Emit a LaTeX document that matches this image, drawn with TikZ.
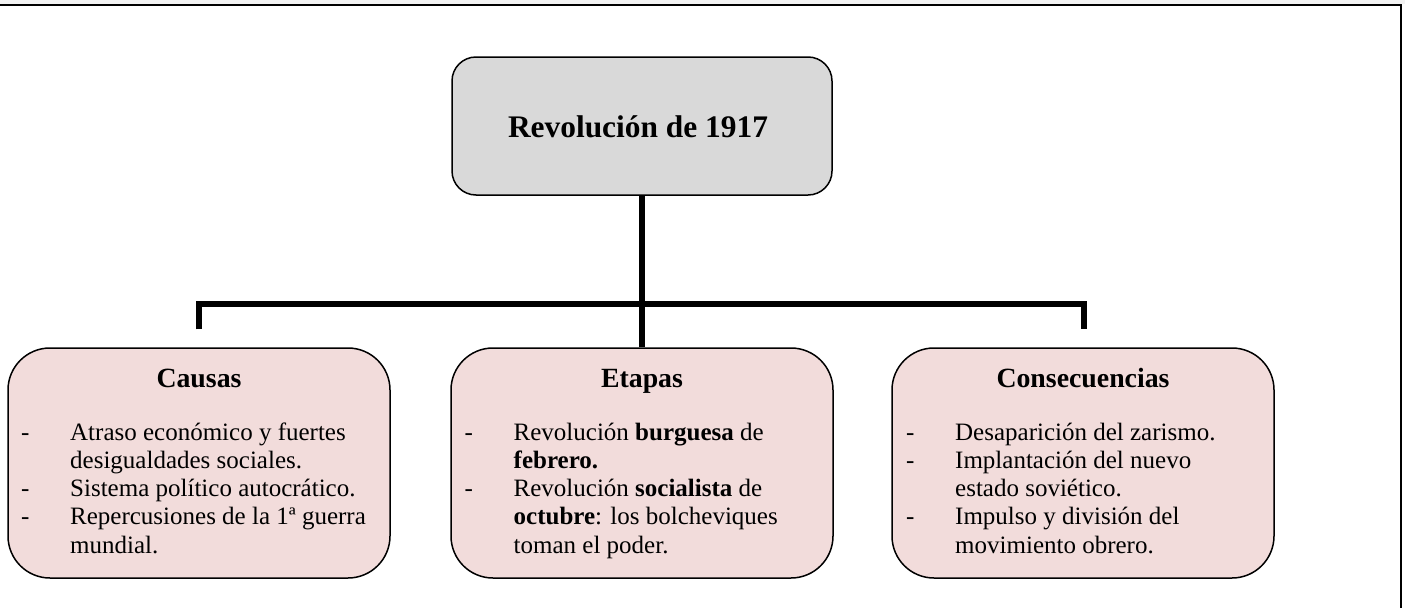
\documentclass[tikz,border=0pt]{standalone}
\usepackage{fontspec}
\setmainfont{Liberation Serif}
\usepackage{array}
\definecolor{topfill}{HTML}{D9D9D9}
\definecolor{boxfill}{HTML}{F2DCDB}
\definecolor{stripgrey}{HTML}{F2F2F2}
\newcommand{\bodylines}[1]{\begin{tabular}[t]{@{}p{49pt}@{}l@{}}#1\end{tabular}}
\tikzset{
  topbox/.style={draw=black, line width=1.5pt, fill=topfill, rounded corners=24pt,
    minimum width=380pt, minimum height=138pt, inner sep=0pt},
  subbox/.style={draw=black, line width=1.5pt, fill=boxfill, rounded corners=42pt,
    minimum width=382pt, minimum height=230pt, inner sep=0pt},
  titletext/.style={anchor=base, inner sep=0pt, font=\fontsize{31.4}{36}\selectfont\bfseries},
  headtext/.style={anchor=base, inner sep=0pt, font=\fontsize{27.8}{33}\selectfont\bfseries},
  bodytext/.style={anchor=base west, inner sep=0pt, font=\fontsize{25}{28.3}\selectfont},
  conn/.style={draw=black, line width=5.5pt, line join=miter},
  framelinestyle/.style={draw=black, line width=2pt}
}
\begin{document}
\begin{tikzpicture}[x=1pt,y=-1pt]
\useasboundingbox (0,0) rectangle (1405,608);
\fill[stripgrey] (0,0) rectangle (1405,4);
\draw[framelinestyle] (0,5) -- (1401,5) -- (1401,608);

% top box
\node[topbox] (top) at (642,126) {};
\node[titletext] (title) at (638,137) {Revolución de 1917};

% bottom boxes
\node[subbox] (causas) at (199,463) {};
\node[subbox] (etapas) at (642,463) {};
\node[subbox] (consec) at (1083,463) {};

\node[headtext] (causash) at (199,387) {Causas};
\node[headtext] (etapash) at (642,387) {Etapas};
\node[headtext] (consech) at (1083,387) {Consecuencias};

\node[bodytext] (causast) at (21,440) {\bodylines{%
- & Atraso económico y fuertes\\
  & desigualdades sociales.\\
- & Sistema político autocrático.\\
- & Repercusiones de la 1ª guerra\\
  & mundial.}};
\node[bodytext] (etapast) at (464.5,440) {\bodylines{%
- & Revolución \textbf{burguesa} de\\
  & \textbf{febrero.}\\
- & Revolución \textbf{socialista} de\\
  & \textbf{octubre}: los bolcheviques\\
  & toman el poder.}};
\node[bodytext] (consect) at (906,440) {\bodylines{%
- & Desaparición del zarismo.\\
- & Implantación del nuevo\\
  & estado soviético.\\
- & Impulso y división del\\
  & movimiento obrero.}};

% connectors
\coordinate (lj) at (199,304);
\coordinate (rj) at (1084,304);
\coordinate (ld) at (199,329.3);
\coordinate (rd) at (1084,329.3);
\draw[conn] (top.south) -- (etapas.north);
\draw[conn] (ld) -- (lj) -- (rj) -- (rd);
\end{tikzpicture}
\end{document}
